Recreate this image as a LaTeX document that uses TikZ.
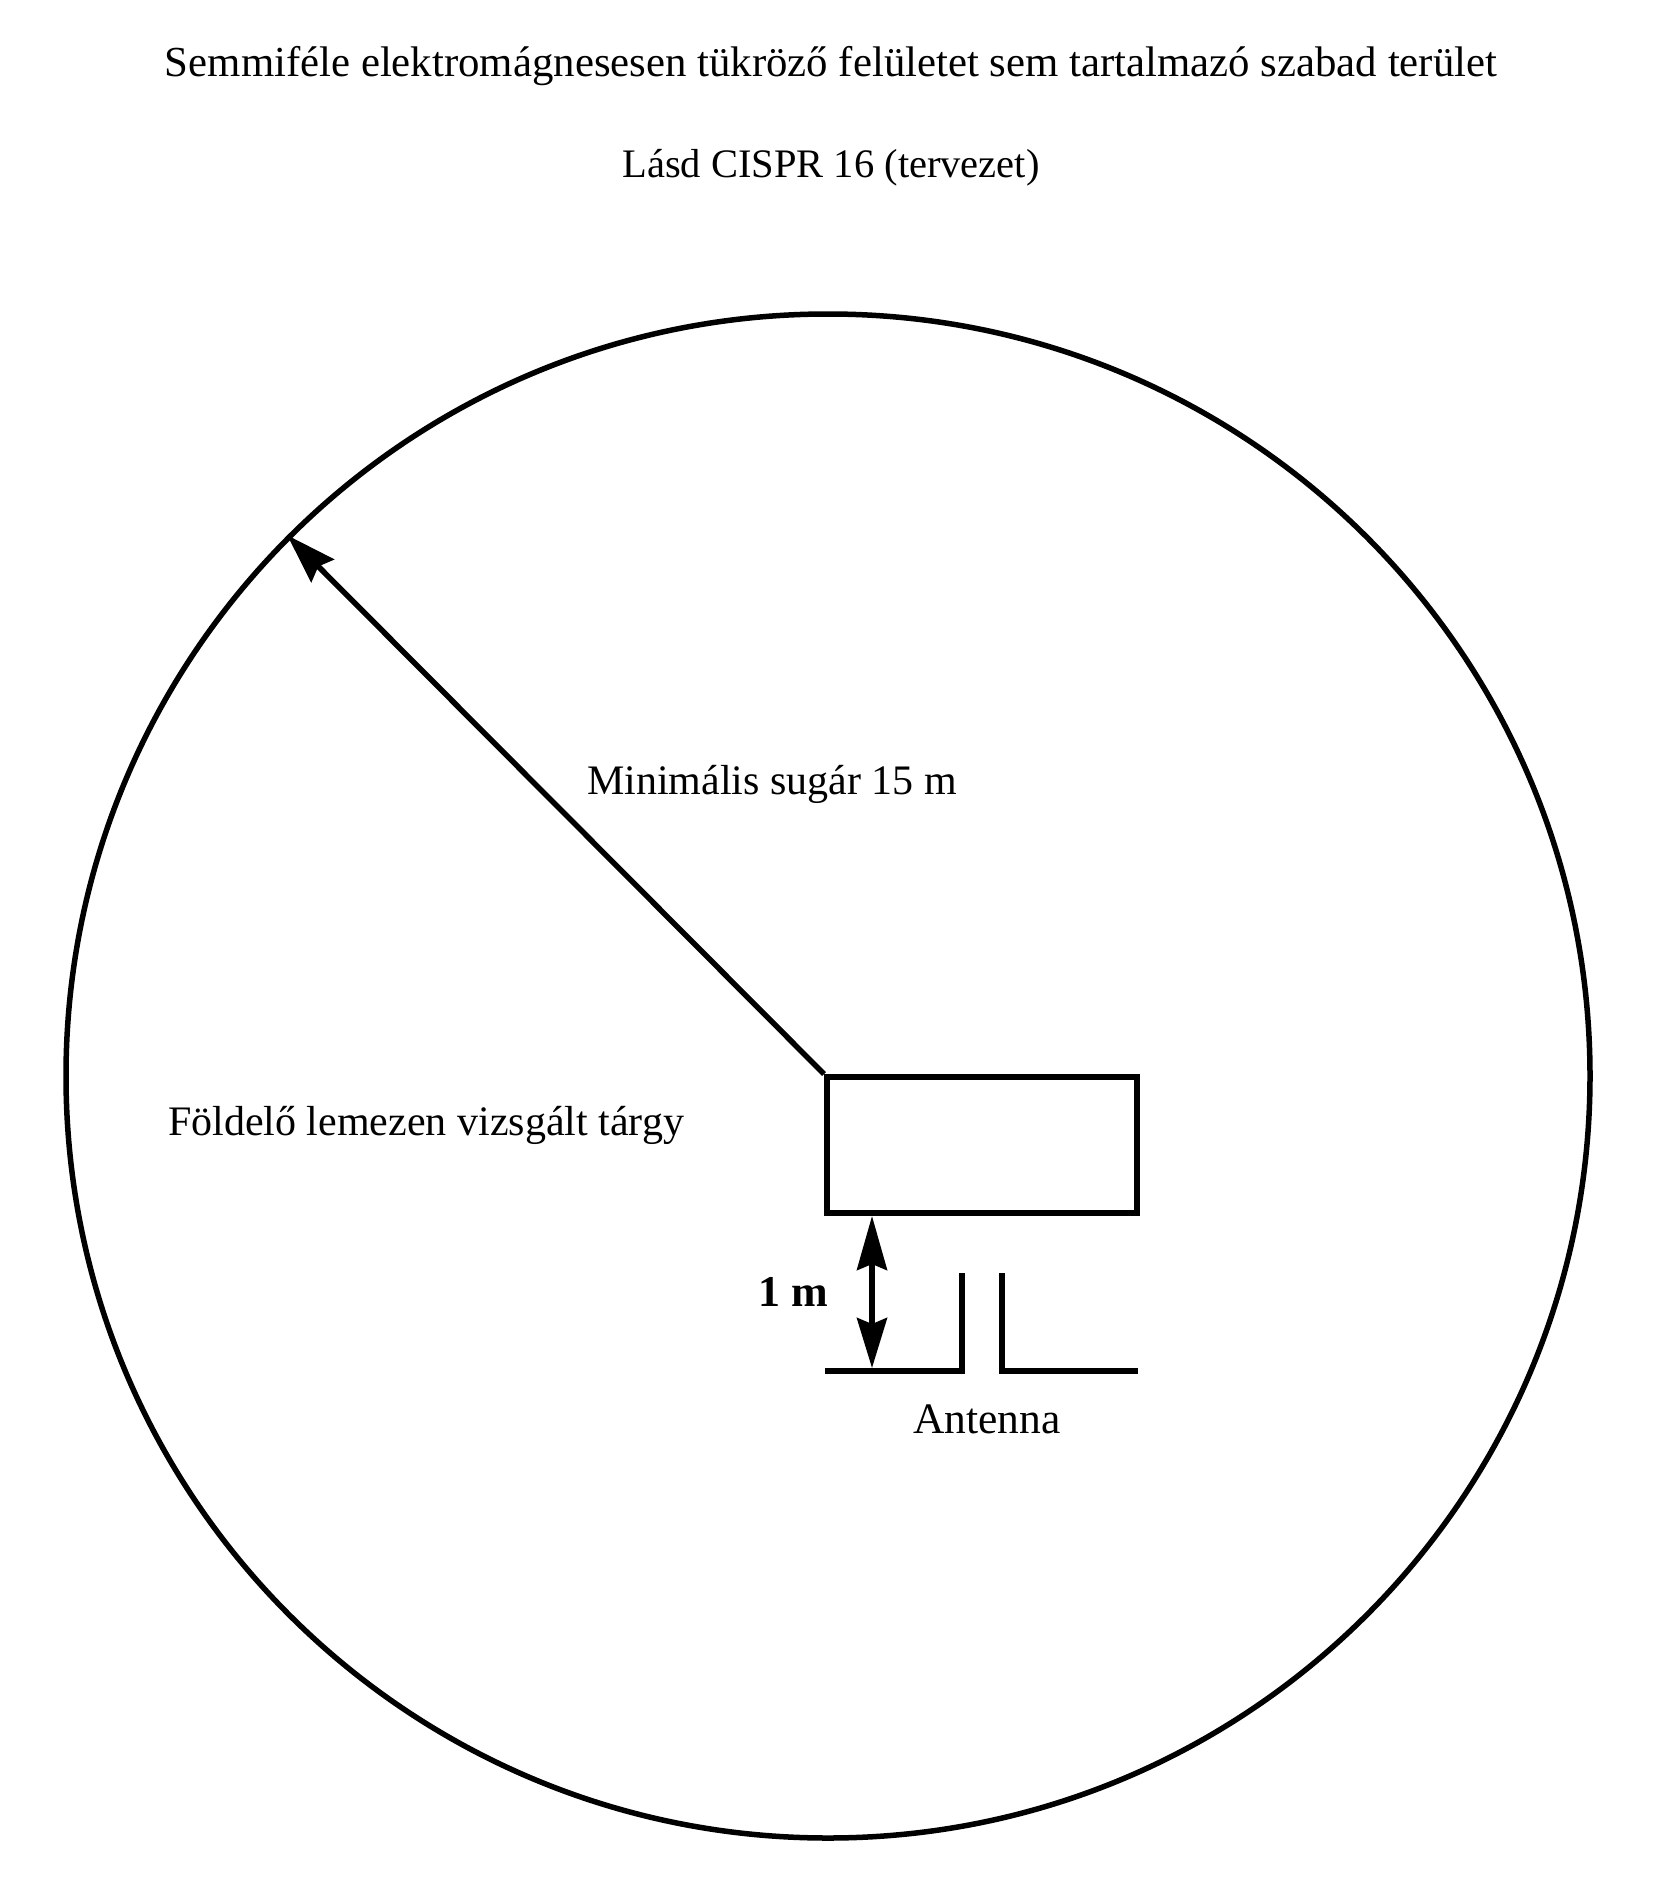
\documentclass[tikz,border=0pt]{standalone}
\usepackage{fontspec}
\setmainfont{Liberation Serif}
\usetikzlibrary{arrows.meta}
\begin{document}
\begin{tikzpicture}[x=1pt,y=-1pt,
  lbl/.style={anchor=base,inner sep=0pt,font=\fontsize{42}{50}\selectfont}]
\useasboundingbox (0,0) rectangle (1657,1897);
% texts
\node[lbl,font=\fontsize{42.8}{50}\selectfont] (title) at (831,77) {Semmiféle elektromágnesesen tükröző felületet sem tartalmazó szabad terület};
\node[lbl,font=\fontsize{40.5}{50}\selectfont] (ref) at (831,178) {Lásd CISPR 16 (tervezet)};
% circle
\node[circle,draw,line width=5.5pt,minimum size=1524pt,inner sep=0pt] (area) at (828,1076) {};
% EUT rectangle
\node[draw,line width=6pt,minimum width=310pt,minimum height=136pt,inner sep=0pt] (eut) at (982,1145) {};
% radius arrow
\draw[line width=5.5pt,-{Stealth[length=50pt,width=32pt,inset=6pt]}] (eut.north west) -- (area.135);
\node[lbl] (radius) at (772,794) {Minimális sugár 15 m};
\node[lbl] (eutlbl) at (426,1135) {Földelő lemezen vizsgált tárgy};
% antenna
\coordinate (gl) at (825,1371);
\coordinate (al) at (962,1273);
\coordinate (ar) at (1002,1273);
\coordinate (gr) at (1138,1371);
\draw[line width=6pt] (gl) -- (gl -| al) -- (al);
\draw[line width=6pt] (ar) -- (ar |- gr) -- (gr);
% 1 m dimension
\coordinate (dm) at (872,1368);
\draw[line width=5.5pt,{Stealth[length=54pt,width=30pt,inset=6pt]}-{Stealth[length=50pt,width=30pt,inset=6pt]}] (dm |- eut.south) -- (dm);
\node[lbl,font=\fontsize{44}{50}\selectfont\bfseries] (dist) at (793,1306) {1 m};
\node[lbl,font=\fontsize{43.5}{50}\selectfont] (ant) at (987,1433) {Antenna};
\end{tikzpicture}
\end{document}
